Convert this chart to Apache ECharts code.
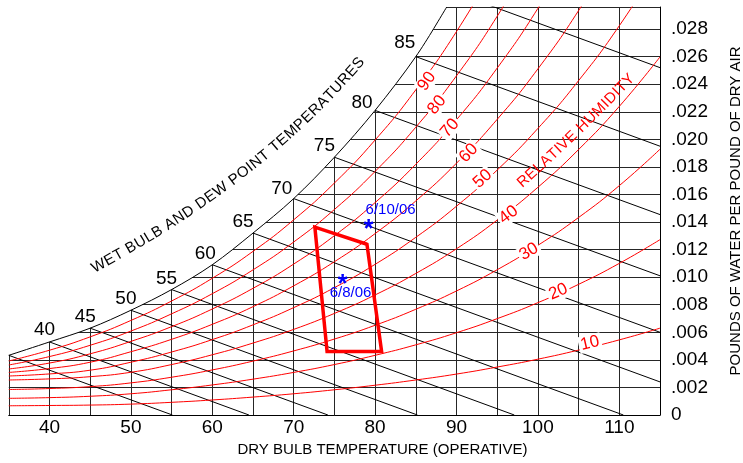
<!DOCTYPE html>
<html>
<head>
<meta charset="utf-8">
<script src="https://cdn.jsdelivr.net/npm/echarts@6/dist/echarts.min.js"></script>
<style>
  html, body { margin: 0; padding: 0; background: #fff; }
  #chart { width: 743px; height: 463px; }
</style>
</head>
<body>
<div id="chart"></div>
<script>
// ---- Axis ranges and tick labels ----
const dryBulb = [35, 40, 45, 50, 55, 60, 65, 70, 75, 80, 85, 90, 95, 100, 105, 110, 115];
const xTickLabels = [40, 50, 60, 70, 80, 90, 100, 110];
const yTickLabels = ['0', '.002', '.004', '.006', '.008', '.010', '.012', '.014',
                     '.016', '.018', '.020', '.022', '.024', '.026', '.028'];
const yMax = 0.0296;

// ---- Saturation curve (100% RH), lb water / lb dry air ----
const satTemp = [35, 40, 45, 50, 55, 60, 65, 70, 75, 80, 85, 88.8];
const satW    = [0.00433, 0.0053, 0.0063, 0.0076, 0.0091, 0.0109, 0.0132, 0.0157, 0.0187, 0.0221, 0.0260, 0.0296];

// ---- Relative humidity curves, values at each dryBulb step ----
const rhLevels = [10, 20, 30, 40, 50, 60, 70, 80, 90];
const rh10 = [0.00067, 0.00069, 0.00072, 0.00079, 0.00092, 0.00109, 0.00130, 0.00154, 0.00183, 0.00216, 0.00254, 0.00297, 0.00348, 0.00405, 0.00471, 0.00545, 0.00630];
const rh20 = [0.00121, 0.00126, 0.00136, 0.00154, 0.00183, 0.00218, 0.00260, 0.00309, 0.00366, 0.00433, 0.00509, 0.00597, 0.00699, 0.00815, 0.00948, 0.01100, 0.01272];
const rh30 = [0.00185, 0.00192, 0.00206, 0.00233, 0.00274, 0.00327, 0.00391, 0.00465, 0.00551, 0.00651, 0.00767, 0.00900, 0.01054, 0.01231, 0.01433, 0.01664, 0.01928];
const rh40 = [0.00254, 0.00262, 0.00278, 0.00310, 0.00366, 0.00437, 0.00522, 0.00621, 0.00737, 0.00871, 0.01027, 0.01206, 0.01414, 0.01652, 0.01926, 0.02239, 0.02598];
const rh50 = [0.00283, 0.00298, 0.00325, 0.00383, 0.00457, 0.00547, 0.00654, 0.00779, 0.00924, 0.01093, 0.01289, 0.01515, 0.01777, 0.02079, 0.02426, 0.02824, 0.03282];
const rh60 = [0.00309, 0.00337, 0.00383, 0.00459, 0.00549, 0.00658, 0.00786, 0.00937, 0.01112, 0.01316, 0.01553, 0.01827, 0.02145, 0.02511, 0.02934, 0.03420];
const rh70 = [0.00334, 0.00377, 0.00444, 0.00534, 0.00641, 0.00769, 0.00919, 0.01095, 0.01301, 0.01541, 0.01819, 0.02142, 0.02517, 0.02950, 0.03450];
const rh80 = [0.00363, 0.00424, 0.00506, 0.00609, 0.00734, 0.00880, 0.01053, 0.01255, 0.01491, 0.01767, 0.02088, 0.02461, 0.02893, 0.03394];
const rh90 = [0.00392, 0.00470, 0.00567, 0.00686, 0.00827, 0.00992, 0.01187, 0.01416, 0.01683, 0.01995, 0.02359, 0.02782, 0.03274];
const rhCurves = [rh10, rh20, rh30, rh40, rh50, rh60, rh70, rh80, rh90];

// where each RH curve carries its number
const rhLabelT = [106.4, 102.5, 98.9, 96.4, 93.2, 91.5, 89.2, 87.6, 86.35];
const rhLabelW = [0.00521, 0.00895, 0.01185, 0.01452, 0.01713, 0.0190, 0.02081, 0.0225, 0.0242];

// ---- Wet-bulb lines: start on saturation, end at chart edge ----
const wbTemp   = [35, 40, 45, 50, 55, 60, 65, 70, 75, 80, 85, 90];
const wbStartW = [0.00433, 0.0053, 0.0063, 0.0076, 0.0091, 0.0109, 0.0132, 0.0157, 0.0187, 0.0221, 0.0260, 0.0306];
const wbEndT   = [55.1, 64.5, 74.2, 85.2, 97.1, 110.5, 115, 115, 115, 115, 115, 115];
const wbEndW   = [0, 0, 0, 0, 0, 0, 0.0024, 0.0060, 0.0101, 0.01454, 0.0195, 0.0252];

// wet bulb / dew point scale numbers along the saturation curve
const dewLabels = [40, 45, 50, 55, 60, 65, 70, 75, 80, 85];

// ---- Comfort zone outline ----
const zoneT = [72.6, 79.0, 80.8, 74.1, 72.6, 79.0];
const zoneW = [0.01363, 0.01239, 0.0046, 0.0046, 0.01363, 0.01239];

// ---- Measured conditions ----
const obsT = [79.2, 76.0];
const obsW = [0.01387, 0.00987];
const obsDates = ['6/10/06', '6/8/06'];

// ---------------------------------------------------------------
const FONT = '"Liberation Sans", Arial, sans-serif';
const BLUE = '#0000ff';
const pair = (xs, ys) => ys.map((y, i) => [xs[i], y]);

// label placement styles
const dewLabelOffset = [[-5, -12], [-5, -11], [-5, -11], [-5, -11], [-7, -11],
                        [-10, -11], [-12, -10], [-10, -11], [-13, -8], [-11, -14]];
const rhLabelRotate = [13, 23, 31, 37, 42, 46, 49, 52, 55];
const obsDateOffset = [[22, -14], [8, 14]];
const plainLabel = { textBorderWidth: 0, textBorderColor: 'transparent', textShadowBlur: 0, opacity: 1 };

// Catmull-Rom spline through pixel points, as SVG path data
function splinePath(pts) {
  let d = 'M' + pts[0][0] + ' ' + pts[0][1];
  for (let i = 0; i < pts.length - 1; i++) {
    const p0 = pts[i - 1] || pts[i], p1 = pts[i], p2 = pts[i + 1], p3 = pts[i + 2] || pts[i + 1];
    const c1 = [p1[0] + (p2[0] - p0[0]) / 6, p1[1] + (p2[1] - p0[1]) / 6];
    const c2 = [p2[0] - (p3[0] - p1[0]) / 6, p2[1] - (p3[1] - p1[1]) / 6];
    d += ' C' + c1[0] + ' ' + c1[1] + ' ' + c2[0] + ' ' + c2[1] + ' ' + p2[0] + ' ' + p2[1];
  }
  return d;
}

const series = [];

// saturation curve; the area above it is left blank (covers the grid there)
series.push({
  type: 'custom', coordinateSystem: 'cartesian2d', silent: true, z: 3,
  data: pair(satTemp, satW),
  renderItem: (params, api) => {
    if (params.dataIndex !== 0) return null;
    const pts = satTemp.map((t, i) => api.coord([t, satW[i]]));
    const curve = splinePath(pts);
    const top = api.coord([35, yMax])[1];
    const last = pts[pts.length - 1];
    const cover = curve + ' L' + last[0] + ' ' + (top - 4) +
                  ' L' + (pts[0][0] - 4) + ' ' + (top - 4) +
                  ' L' + (pts[0][0] - 4) + ' ' + pts[0][1] + ' Z';
    return {
      type: 'group',
      children: [
        { type: 'path', shape: { pathData: cover }, style: { fill: '#fff', stroke: null } },
        { type: 'path', shape: { pathData: curve }, style: { fill: null, stroke: '#000', lineWidth: 1 } }
      ]
    };
  }
});

// wet-bulb lines
wbTemp.forEach((t, i) => {
  series.push({
    type: 'line', data: [[t, wbStartW[i]], [wbEndT[i], wbEndW[i]]],
    symbol: 'none', silent: true, z: 5,
    lineStyle: { color: '#000', width: 1 }
  });
});

// relative humidity curves
rhCurves.forEach((vals) => {
  series.push({
    type: 'line', data: pair(dryBulb, vals), smooth: true,
    symbol: 'none', silent: true, z: 5,
    lineStyle: { color: '#ff0000', width: 1 }
  });
});

// comfort zone
series.push({
  type: 'line', data: pair(zoneT, zoneW), symbol: 'none', silent: true, z: 7,
  lineStyle: { color: '#ff0000', width: 3.5, join: 'miter' }
});

// RH numbers on the curves
series.push({
  type: 'scatter', symbolSize: 0.1, silent: true, z: 8,
  itemStyle: { color: 'rgba(0,0,0,0)' },
  data: rhLevels.map((lv, i) => ({
    value: [rhLabelT[i], rhLabelW[i]], name: String(lv),
    label: { rotate: rhLabelRotate[i] }
  })),
  label: Object.assign({
    show: true, position: 'inside', formatter: p => p.name,
    color: '#ff0000', fontSize: 17, fontFamily: FONT,
    backgroundColor: '#fff', padding: [0, 2], lineHeight: 17
  }, plainLabel)
});

// wet bulb / dew point numbers
series.push({
  type: 'scatter', symbolSize: 0.1, silent: true, z: 8,
  itemStyle: { color: 'rgba(0,0,0,0)' },
  data: dewLabels.map((t, i) => {
    const k = satTemp.indexOf(t);
    return { value: [t, satW[k]], name: String(t), label: { offset: dewLabelOffset[i] } };
  }),
  label: Object.assign({
    show: true, position: 'inside', formatter: p => p.name,
    color: '#000', fontSize: 19, fontFamily: FONT
  }, plainLabel)
});

// measured points (asterisks) and their dates
series.push({
  type: 'scatter', symbolSize: 0.1, silent: true, z: 9,
  itemStyle: { color: 'rgba(0,0,0,0)' },
  data: pair(obsT, obsW),
  label: Object.assign({
    show: true, position: 'inside', formatter: '*', offset: [0, 6],
    color: BLUE, fontSize: 25, fontWeight: 'bold', fontFamily: FONT
  }, plainLabel)
});
series.push({
  type: 'scatter', symbolSize: 0.1, silent: true, z: 9,
  itemStyle: { color: 'rgba(0,0,0,0)' },
  data: obsT.map((t, i) => ({ value: [t, obsW[i]], name: obsDates[i], label: { offset: obsDateOffset[i] } })),
  label: Object.assign({
    show: true, position: 'inside', formatter: p => p.name,
    color: BLUE, fontSize: 15, fontFamily: FONT
  }, plainLabel)
});

// ---- text set letter by letter along a gentle curve ----
function arcText(str, p0, p1, p2, fontSize, color) {
  const ctx = document.createElement('canvas').getContext('2d');
  const font = fontSize + 'px ' + FONT;
  ctx.font = font;
  const N = 600, pts = [], len = [0];
  for (let i = 0; i <= N; i++) {
    const t = i / N, a = (1 - t) * (1 - t), b = 2 * (1 - t) * t, c = t * t;
    pts.push([a * p0[0] + b * p1[0] + c * p2[0], a * p0[1] + b * p1[1] + c * p2[1]]);
    if (i > 0) len.push(len[i - 1] + Math.hypot(pts[i][0] - pts[i - 1][0], pts[i][1] - pts[i - 1][1]));
  }
  const chars = [...str];
  const widths = chars.map(ch => ctx.measureText(ch).width);
  const natural = widths.reduce((s, w) => s + w, 0);
  const extra = (len[N] - natural) / (chars.length - 1);
  const els = [];
  let s = 0;
  chars.forEach((ch, i) => {
    const mid = s + widths[i] / 2;
    let k = 1;
    while (k < N && len[k] < mid) k++;
    const f = (mid - len[k - 1]) / (len[k] - len[k - 1] || 1);
    const x = pts[k - 1][0] + f * (pts[k][0] - pts[k - 1][0]);
    const y = pts[k - 1][1] + f * (pts[k][1] - pts[k - 1][1]);
    let dx = pts[k][0] - pts[k - 1][0], dy = pts[k][1] - pts[k - 1][1];
    const d = Math.hypot(dx, dy); dx /= d; dy /= d;
    const lift = 0.36 * fontSize;
    els.push({
      type: 'text', x: x + dy * lift, y: y - dx * lift, rotation: Math.atan2(-dy, dx),
      silent: true, z: 10,
      style: { text: ch, font: font, fill: color, align: 'center', verticalAlign: 'middle' }
    });
    s += widths[i] + extra;
  });
  return els;
}

const graphics = arcText('WET BULB AND DEW POINT TEMPERATURES', [95, 274], [264, 184], [366, 63], 15, '#000')
  .concat(arcText('RELATIVE HUMIDITY', [523, 189], [581.8, 136.9], [636, 80], 15, '#ff0000'));
graphics.push({
  type: 'text', x: 382.5, y: 450, silent: true,
  style: { text: 'DRY BULB TEMPERATURE (OPERATIVE)', font: '15px ' + FONT, fill: '#000', align: 'center', verticalAlign: 'middle' }
});
graphics.push({
  type: 'text', x: 736, y: 211, rotation: Math.PI / 2, silent: true,
  style: { text: 'POUNDS OF WATER PER POUND OF DRY AIR', font: '15px ' + FONT, fill: '#000', align: 'center', verticalAlign: 'middle' }
});

const chart = echarts.init(document.getElementById('chart'));
chart.setOption({
  animation: false,
  textStyle: { fontFamily: FONT },
  grid: { left: 8.8, right: 83, top: 7, bottom: 48, containLabel: false },
  xAxis: {
    type: 'value', min: 35, max: 115, interval: 5,
    axisLine: { show: true, lineStyle: { color: '#000', width: 1 } },
    axisTick: { show: false },
    splitLine: { show: true, lineStyle: { color: '#262626', width: 1 } },
    axisLabel: {
      color: '#000', fontSize: 19, margin: 3, fontFamily: FONT,
      formatter: v => (xTickLabels.indexOf(Math.round(v)) >= 0 && Math.abs(v - Math.round(v)) < 1e-6) ? String(Math.round(v)) : ''
    }
  },
  yAxis: {
    type: 'value', position: 'right', min: 0, max: yMax, interval: 0.002,
    axisLine: { show: true, lineStyle: { color: '#000', width: 1 } },
    axisTick: { show: false },
    splitLine: { show: true, lineStyle: { color: '#262626', width: 1 } },
    axisLabel: {
      color: '#000', fontSize: 19, margin: 11, align: 'left', fontFamily: FONT,
      formatter: v => {
        const k = v / 0.002, r = Math.round(k);
        return (Math.abs(k - r) < 1e-6 && r < yTickLabels.length) ? yTickLabels[r] : '';
      }
    }
  },
  series: series,
  graphic: graphics
});
</script>
</body>
</html>
